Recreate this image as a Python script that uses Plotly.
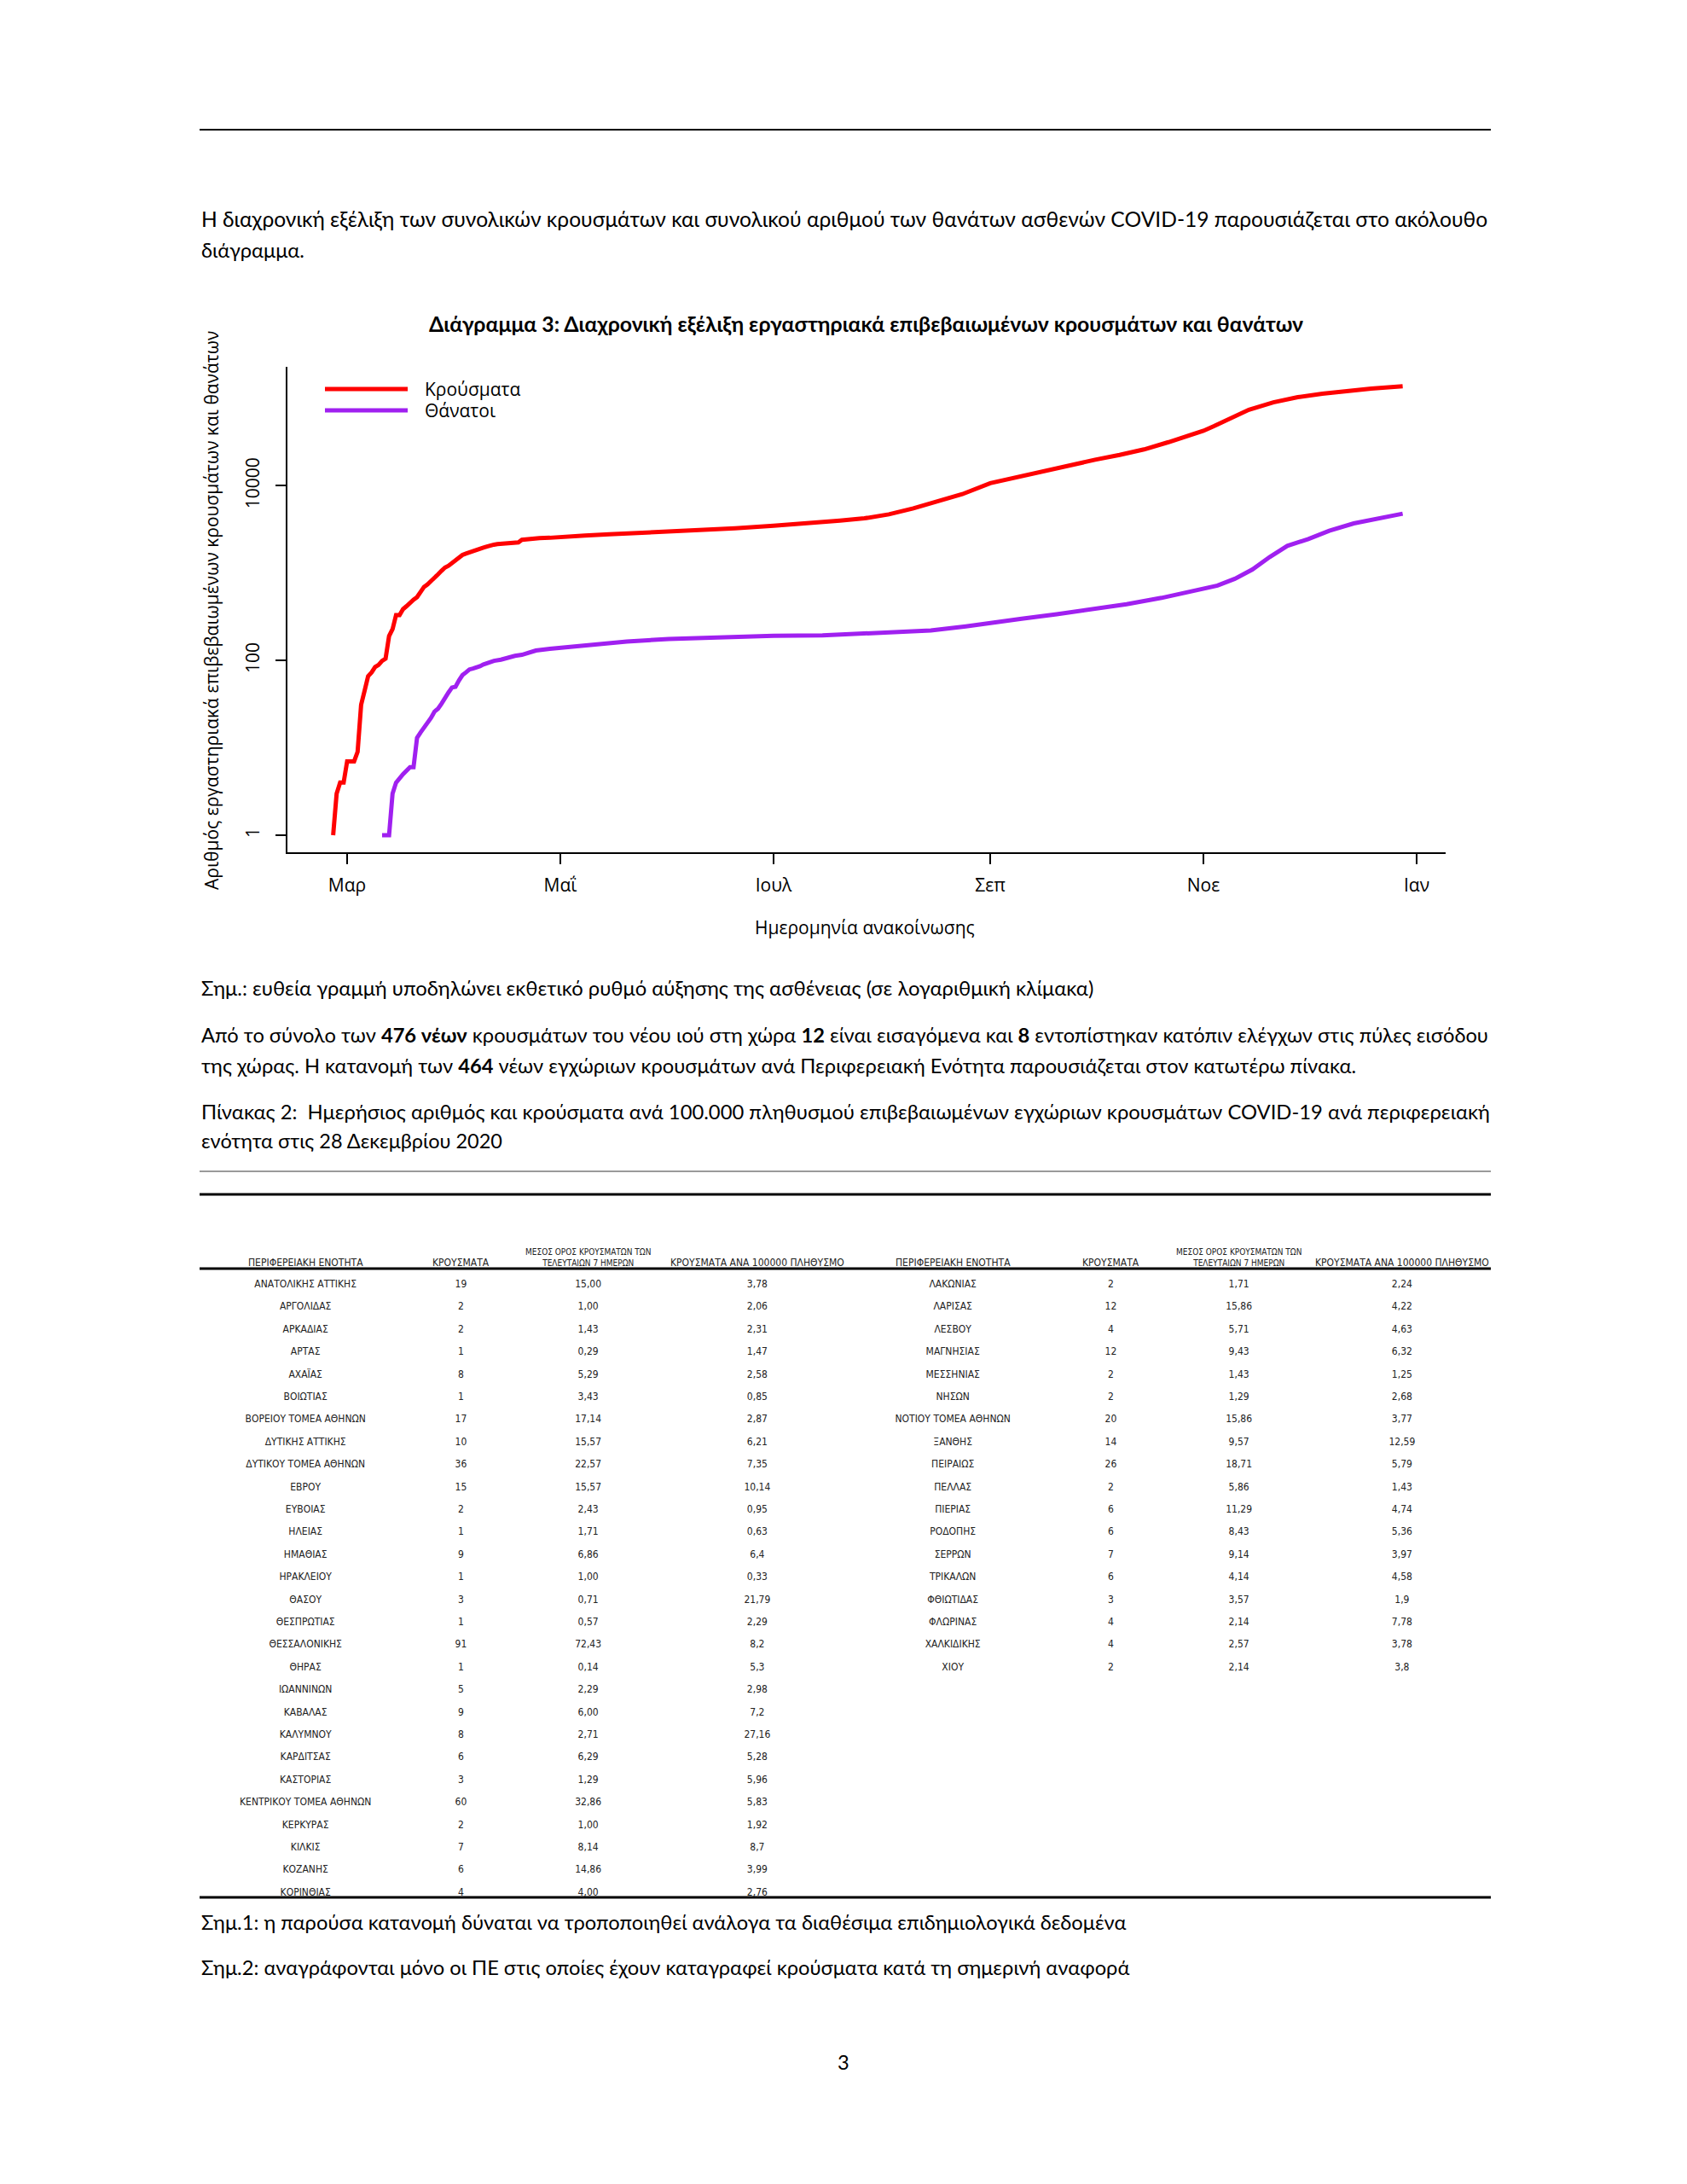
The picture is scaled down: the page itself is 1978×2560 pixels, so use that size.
import plotly.graph_objects as go

W, H = 1978, 2560

# ---------------- chart data ----------------
case_dates = [
    "2020-02-26", "2020-02-27", "2020-02-28", "2020-02-29", "2020-03-01", "2020-03-03",
    "2020-03-04", "2020-03-05", "2020-03-06", "2020-03-07", "2020-03-08", "2020-03-09",
    "2020-03-10", "2020-03-11", "2020-03-12", "2020-03-13", "2020-03-14", "2020-03-15",
    "2020-03-16", "2020-03-17", "2020-03-18", "2020-03-19", "2020-03-20", "2020-03-21",
    "2020-03-22", "2020-03-23", "2020-03-24", "2020-03-25", "2020-03-26", "2020-03-27",
    "2020-03-28", "2020-03-29", "2020-03-30", "2020-03-31", "2020-04-01", "2020-04-02",
    "2020-04-03", "2020-04-04", "2020-04-05", "2020-04-06", "2020-04-07", "2020-04-08",
    "2020-04-09", "2020-04-10", "2020-04-11", "2020-04-12", "2020-04-13", "2020-04-14",
    "2020-04-15", "2020-04-16", "2020-04-17", "2020-04-18", "2020-04-19", "2020-04-20",
    "2020-04-22", "2020-04-25", "2020-04-28", "2020-05-01", "2020-05-08", "2020-05-15",
    "2020-05-22", "2020-06-01", "2020-06-10", "2020-06-20", "2020-07-01", "2020-07-10",
    "2020-07-20", "2020-07-27", "2020-08-03", "2020-08-10", "2020-08-17", "2020-08-24",
    "2020-09-01", "2020-09-08", "2020-09-15", "2020-09-24", "2020-10-01", "2020-10-08",
    "2020-10-15", "2020-10-22", "2020-11-01", "2020-11-04", "2020-11-09", "2020-11-14",
    "2020-11-21", "2020-11-28", "2020-12-05", "2020-12-12", "2020-12-19", "2020-12-28",
]
case_values = [
    1, 3, 4, 4, 7, 7,
    9, 31, 45, 66, 73, 84,
    89, 99, 105, 190, 228, 331,
    331, 387, 418, 464, 495, 530,
    624, 695, 743, 821, 892, 966,
    1061, 1156, 1212, 1314, 1415, 1544,
    1613, 1673, 1735, 1755, 1832, 1884,
    1955, 2011, 2081, 2114, 2145, 2170,
    2192, 2207, 2224, 2235, 2245, 2401,
    2463, 2506, 2534, 2591, 2690, 2780,
    2853, 2950, 3070, 3250, 3480, 3670,
    3980, 4230, 4700, 5500, 6600, 8000,
    10700, 12400, 14400, 17300, 19800, 22500,
    26000, 31500, 42500, 48000, 60000, 74000,
    90000, 103000, 113000, 122000, 129000, 137500,
]

death_dates = [
    "2020-03-11", "2020-03-13", "2020-03-14", "2020-03-15", "2020-03-17", "2020-03-19",
    "2020-03-20", "2020-03-21", "2020-03-22", "2020-03-23", "2020-03-24", "2020-03-25",
    "2020-03-26", "2020-03-27", "2020-03-28", "2020-03-29", "2020-03-30", "2020-03-31",
    "2020-04-01", "2020-04-02", "2020-04-03", "2020-04-04", "2020-04-05", "2020-04-06",
    "2020-04-07", "2020-04-08", "2020-04-09", "2020-04-10", "2020-04-12", "2020-04-14",
    "2020-04-16", "2020-04-18", "2020-04-20", "2020-04-24", "2020-04-28", "2020-05-01",
    "2020-05-10", "2020-05-20", "2020-06-01", "2020-06-15", "2020-07-01", "2020-07-15",
    "2020-07-27", "2020-08-05", "2020-08-15", "2020-08-25", "2020-09-01", "2020-09-10",
    "2020-09-20", "2020-10-01", "2020-10-10", "2020-10-20", "2020-11-01", "2020-11-05",
    "2020-11-10", "2020-11-15", "2020-11-20", "2020-11-25", "2020-12-01", "2020-12-07",
    "2020-12-14", "2020-12-21", "2020-12-28",
]
death_values = [
    1, 1, 3, 4, 5, 6,
    6, 13, 15, 17, 20, 22,
    26, 28, 32, 38, 43, 49,
    50, 59, 68, 73, 79, 81,
    83, 86, 90, 93, 99, 102,
    108, 113, 116, 130, 136, 140,
    150, 165, 176, 185, 192, 194,
    203, 210, 220, 245, 271, 300,
    338, 393, 440, 520, 660, 720,
    860, 1100, 1530, 2050, 2450, 3050,
    3700, 4250, 4780,
]

series_names = ["Κρούσματα", "Θάνατοι"]
series_colors = ["#FF0000", "#A020F0"]

x_tick_dates = ["2020-03-01", "2020-05-01", "2020-07-01", "2020-09-01", "2020-11-01", "2021-01-01"]
x_tick_labels = ["Μαρ", "Μαΐ", "Ιουλ", "Σεπ", "Νοε", "Ιαν"]
y_tick_values = [1, 100, 10000]
y_tick_labels = ["1", "100", "10000"]

# ---------------- table data ----------------
header_labels = [
    "ΠΕΡΙΦΕΡΕΙΑΚΗ ΕΝΟΤΗΤΑ",
    "ΚΡΟΥΣΜΑΤΑ",
    "ΜΕΣΟΣ ΟΡΟΣ ΚΡΟΥΣΜΑΤΩΝ ΤΩΝ<br>ΤΕΛΕΥΤΑΙΩΝ 7 ΗΜΕΡΩΝ",
    "ΚΡΟΥΣΜΑΤΑ ΑΝΑ 100000 ΠΛΗΘΥΣΜΟ",
]

left_regions = [
    "ΑΝΑΤΟΛΙΚΗΣ ΑΤΤΙΚΗΣ", "ΑΡΓΟΛΙΔΑΣ", "ΑΡΚΑΔΙΑΣ", "ΑΡΤΑΣ", "ΑΧΑΪΑΣ", "ΒΟΙΩΤΙΑΣ",
    "ΒΟΡΕΙΟΥ ΤΟΜΕΑ ΑΘΗΝΩΝ", "ΔΥΤΙΚΗΣ ΑΤΤΙΚΗΣ", "ΔΥΤΙΚΟΥ ΤΟΜΕΑ ΑΘΗΝΩΝ", "ΕΒΡΟΥ",
    "ΕΥΒΟΙΑΣ", "ΗΛΕΙΑΣ", "ΗΜΑΘΙΑΣ", "ΗΡΑΚΛΕΙΟΥ", "ΘΑΣΟΥ", "ΘΕΣΠΡΩΤΙΑΣ",
    "ΘΕΣΣΑΛΟΝΙΚΗΣ", "ΘΗΡΑΣ", "ΙΩΑΝΝΙΝΩΝ", "ΚΑΒΑΛΑΣ", "ΚΑΛΥΜΝΟΥ", "ΚΑΡΔΙΤΣΑΣ",
    "ΚΑΣΤΟΡΙΑΣ", "ΚΕΝΤΡΙΚΟΥ ΤΟΜΕΑ ΑΘΗΝΩΝ", "ΚΕΡΚΥΡΑΣ", "ΚΙΛΚΙΣ", "ΚΟΖΑΝΗΣ", "ΚΟΡΙΝΘΙΑΣ",
]
left_cases = ["19", "2", "2", "1", "8", "1", "17", "10", "36", "15", "2", "1", "9", "1",
              "3", "1", "91", "1", "5", "9", "8", "6", "3", "60", "2", "7", "6", "4"]
left_avg7 = ["15,00", "1,00", "1,43", "0,29", "5,29", "3,43", "17,14", "15,57", "22,57",
             "15,57", "2,43", "1,71", "6,86", "1,00", "0,71", "0,57", "72,43", "0,14",
             "2,29", "6,00", "2,71", "6,29", "1,29", "32,86", "1,00", "8,14", "14,86", "4,00"]
left_per100k = ["3,78", "2,06", "2,31", "1,47", "2,58", "0,85", "2,87", "6,21", "7,35",
                "10,14", "0,95", "0,63", "6,4", "0,33", "21,79", "2,29", "8,2", "5,3",
                "2,98", "7,2", "27,16", "5,28", "5,96", "5,83", "1,92", "8,7", "3,99", "2,76"]

right_regions = [
    "ΛΑΚΩΝΙΑΣ", "ΛΑΡΙΣΑΣ", "ΛΕΣΒΟΥ", "ΜΑΓΝΗΣΙΑΣ", "ΜΕΣΣΗΝΙΑΣ", "ΝΗΣΩΝ",
    "ΝΟΤΙΟΥ ΤΟΜΕΑ ΑΘΗΝΩΝ", "ΞΑΝΘΗΣ", "ΠΕΙΡΑΙΩΣ", "ΠΕΛΛΑΣ", "ΠΙΕΡΙΑΣ", "ΡΟΔΟΠΗΣ",
    "ΣΕΡΡΩΝ", "ΤΡΙΚΑΛΩΝ", "ΦΘΙΩΤΙΔΑΣ", "ΦΛΩΡΙΝΑΣ", "ΧΑΛΚΙΔΙΚΗΣ", "ΧΙΟΥ",
]
right_cases = ["2", "12", "4", "12", "2", "2", "20", "14", "26", "2", "6", "6", "7", "6",
               "3", "4", "4", "2"]
right_avg7 = ["1,71", "15,86", "5,71", "9,43", "1,43", "1,29", "15,86", "9,57", "18,71",
              "5,86", "11,29", "8,43", "9,14", "4,14", "3,57", "2,14", "2,57", "2,14"]
right_per100k = ["2,24", "4,22", "4,63", "6,32", "1,25", "2,68", "3,77", "12,59", "5,79",
                 "1,43", "4,74", "5,36", "3,97", "4,58", "1,9", "7,78", "3,78", "3,8"]

# ---------------- page text ----------------
para1 = [
    "Η διαχρονική εξέλιξη των συνολικών κρουσμάτων και συνολικού αριθμού των θανάτων ασθενών COVID-19 παρουσιάζεται στο ακόλουθο",
    "διάγραμμα.",
]
chart_title = "<b>Διάγραμμα 3: Διαχρονική εξέλιξη εργαστηριακά επιβεβαιωμένων κρουσμάτων και θανάτων</b>"
y_title = "Αριθμός εργαστηριακά επιβεβαιωμένων κρουσμάτων και θανάτων"
x_title = "Ημερομηνία ανακοίνωσης"
note0 = "Σημ.: ευθεία γραμμή υποδηλώνει εκθετικό ρυθμό αύξησης της ασθένειας (σε λογαριθμική κλίμακα)"
para2 = [
    "Από το σύνολο των <b>476 νέων</b> κρουσμάτων του νέου ιού στη χώρα <b>12</b> είναι εισαγόμενα και <b>8</b> εντοπίστηκαν κατόπιν ελέγχων στις πύλες εισόδου",
    "της χώρας. Η κατανομή των <b>464</b> νέων εγχώριων κρουσμάτων ανά Περιφερειακή Ενότητα παρουσιάζεται στον κατωτέρω πίνακα.",
]
para3 = [
    "Πίνακας 2:  Ημερήσιος αριθμός και κρούσματα ανά 100.000 πληθυσμού επιβεβαιωμένων εγχώριων κρουσμάτων COVID-19 ανά περιφερειακή",
    "ενότητα στις 28 Δεκεμβρίου 2020",
]
note1 = "Σημ.1: η παρούσα κατανομή δύναται να τροποποιηθεί ανάλογα τα διαθέσιμα επιδημιολογικά δεδομένα"
note2 = "Σημ.2: αναγράφονται μόνο οι ΠΕ στις οποίες έχουν καταγραφεί κρούσματα κατά τη σημερινή αναφορά"
page_no = "3"

# ---------------- helpers ----------------
def px(x):
    return x / W


def py(y):
    return 1 - y / H


BODY = "Lato, 'Liberation Sans', sans-serif"
CHART = "'Open Sans', 'Noto Sans', sans-serif"
TABLE = "'Liberation Sans Narrow', 'DejaVu Sans Condensed', 'Liberation Sans', sans-serif"

fig = go.Figure()

for xs, ys, name, color in zip([case_dates, death_dates], [case_values, death_values],
                               series_names, series_colors):
    fig.add_trace(go.Scatter(x=xs, y=ys, mode="lines", name=name,
                             line=dict(color=color, width=5), showlegend=False,
                             hoverinfo="skip"))

# table: left half and right half side by side
TABLE_X0, TABLE_X1 = 234, 1748
col_widths = [248, 116, 182, 214, 244, 126, 174, 208]
n_left = len(left_regions)
pad = [""] * (n_left - len(right_regions))
table_cols = [left_regions, left_cases, left_avg7, left_per100k,
              right_regions + pad, right_cases + pad, right_avg7 + pad, right_per100k + pad]

fig.add_trace(go.Table(
    domain=dict(x=[px(TABLE_X0), px(TABLE_X1)], y=[py(2265), py(1455)]),
    columnwidth=col_widths,
    header=dict(values=[""] * len(col_widths), height=37, align="center",
                font=dict(family=TABLE, size=12, color="#222"),
                fill_color="rgba(0,0,0,0)", line_color="rgba(0,0,0,0)"),
    cells=dict(values=table_cols, height=26.4, align="center",
               font=dict(family=TABLE, size=12, color="#222"),
               fill_color="rgba(0,0,0,0)", line_color="rgba(0,0,0,0)"),
))

annotations = []


def text(x, y, s, size, family=BODY, xanchor="left", angle=0, color="black"):
    annotations.append(dict(x=px(x), y=py(y), xref="paper", yref="paper", text=s,
                            showarrow=False, xanchor=xanchor, yanchor="middle",
                            textangle=angle, font=dict(family=family, size=size, color=color)))


# table header labels, centred over the table columns
scale = (TABLE_X1 - TABLE_X0) / sum(col_widths)
edge = TABLE_X0
for i, wcol in enumerate(col_widths):
    centre = edge + wcol * scale / 2
    edge += wcol * scale
    lab = header_labels[i % 4]
    if "<br>" in lab:
        text(centre, 1473.5, lab, 10, family=TABLE, xanchor="center", color="#222")
    else:
        text(centre, 1480, lab, 12, family=TABLE, xanchor="center", color="#222")

BODY_SIZE = 23.7
text(234, 257, para1[0], 24.6)
text(234, 293, para1[1], BODY_SIZE)
text(1016, 379, chart_title, 24.8, xanchor="center")
text(248, 715, y_title, 21, family=CHART, xanchor="center", angle=-90)
text(1014, 1087, x_title, 21, family=CHART, xanchor="center")
text(496, 456, series_names[0], 21, family=CHART)
text(496, 481, series_names[1], 21, family=CHART)
text(234, 1158, note0, 23.8)
text(234, 1213, para2[0], 23.7)
text(234, 1249, para2[1], BODY_SIZE)
text(234, 1303, para3[0], 23.8)
text(234, 1337, para3[1], 23.5)
text(234, 2253, note1, BODY_SIZE)
text(234, 2306, note2, BODY_SIZE)
text(989, 2417, page_no, BODY_SIZE, xanchor="center")

shapes = [
    dict(type="line", xref="paper", yref="paper", x0=px(234), x1=px(1748), y0=py(152), y1=py(152),
         line=dict(color="black", width=2)),
    dict(type="line", xref="paper", yref="paper", x0=px(234), x1=px(1748), y0=py(1373), y1=py(1373),
         line=dict(color="#9a9a9a", width=2)),
    dict(type="line", xref="paper", yref="paper", x0=px(234), x1=px(1748), y0=py(1400), y1=py(1400),
         line=dict(color="black", width=3)),
    dict(type="line", xref="paper", yref="paper", x0=px(234), x1=px(1748), y0=py(1487), y1=py(1487),
         line=dict(color="black", width=3)),
    dict(type="line", xref="paper", yref="paper", x0=px(234), x1=px(1748), y0=py(2224), y1=py(2224),
         line=dict(color="black", width=3)),
    # legend keys
    dict(type="line", xref="paper", yref="paper", x0=px(381), x1=px(478), y0=py(456), y1=py(456),
         line=dict(color=series_colors[0], width=5)),
    dict(type="line", xref="paper", yref="paper", x0=px(381), x1=px(478), y0=py(481), y1=py(481),
         line=dict(color=series_colors[1], width=5)),
]

fig.update_layout(
    width=W, height=H, margin=dict(l=0, r=0, t=0, b=0),
    paper_bgcolor="white", plot_bgcolor="white",
    showlegend=False,
    annotations=annotations, shapes=shapes,
    xaxis=dict(domain=[px(337), px(1695)], type="date",
               range=["2020-02-12 22:00", "2021-01-09 07:00"],
               tickvals=x_tick_dates, ticktext=x_tick_labels,
               ticks="outside", ticklen=12, tickwidth=2, tickcolor="black",
               showline=True, linecolor="black", linewidth=2,
               showgrid=False, zeroline=False, ticklabelstandoff=7,
               tickfont=dict(family=CHART, size=21, color="black")),
    yaxis=dict(domain=[py(999), py(430)], type="log", range=[-0.195, 5.36],
               tickvals=y_tick_values, ticktext=y_tick_labels, tickangle=-90,
               ticks="outside", ticklen=12, tickwidth=2, tickcolor="black",
               showline=True, linecolor="black", linewidth=2,
               showgrid=False, zeroline=False, ticklabelstandoff=11,
               tickfont=dict(family=CHART, size=21, color="black")),
)

fig.write_html("out.html", config={"displayModeBar": False},
               post_script="document.body.style.margin='0';document.body.style.overflow='hidden';")
